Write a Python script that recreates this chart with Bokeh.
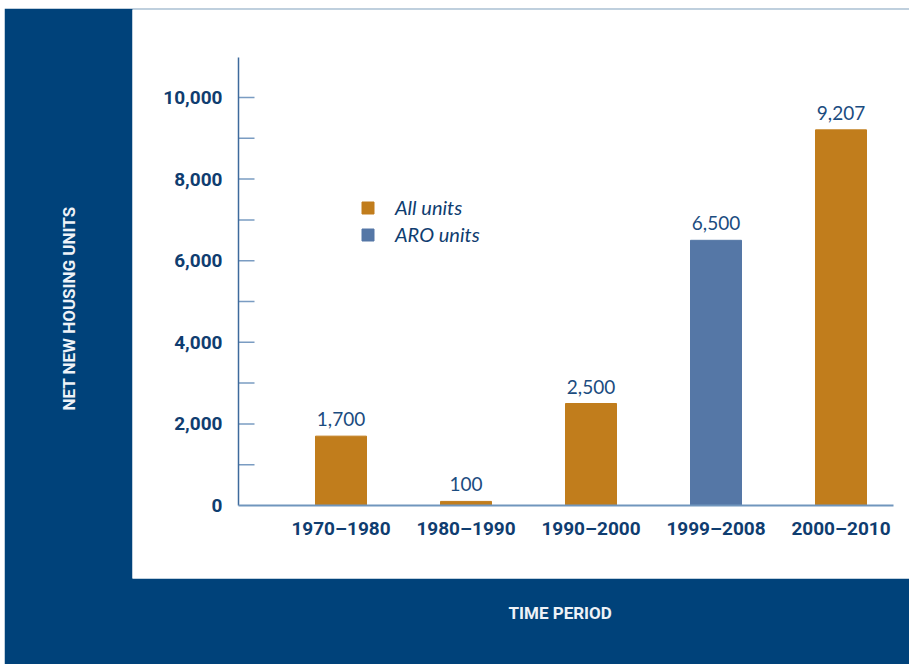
from bokeh.plotting import figure
from bokeh.models import (Range1d, ColumnDataSource, LabelSet, Legend, LegendItem, Title)
from bokeh.core.properties import value
from bokeh.embed import file_html
from bokeh.resources import INLINE

# ---------------- data ----------------
periods = ["1970–1980", "1980–1990", "1990–2000", "1999–2008", "2000–2010"]
units = [1700, 100, 2500, 6500, 9207]
value_labels = ["1,700", "100", "2,500", "6,500", "9,207"]
series = ["All units", "All units", "All units", "ARO units", "All units"]
y_ticks = [0, 1000, 2000, 3000, 4000, 5000, 6000, 7000, 8000, 9000, 10000]
y_tick_labels = ["0", "2,000", "4,000", "6,000", "8,000", "10,000"]
y_title = "NET NEW HOUSING UNITS"
x_title = "TIME PERIOD"

# ---------------- styles / layout ----------------
NAVY = "#00427a"
ORANGE = "#c17d1c"
STEEL = "#5577a6"
LABEL_NAVY = "#0f3d70"
VALUE_NAVY = "#1b4c80"
TITLE_WHITE = "#eef2f7"
COND = "Roboto"

AXIS_X = -0.82      # data x where the value axis sits
AXIS_X_END = 4.42   # data x where the category axis line ends
AXIS_Y_END = 10980  # data y where the value axis line ends

colors = [ORANGE if s == "All units" else STEEL for s in series]
xs = list(range(len(periods)))
src = ColumnDataSource(dict(x=xs, top=units, color=colors, lab=value_labels))

p = figure(width=905, height=656, output_backend="svg", toolbar_location=None,
           x_range=Range1d(-1.668, 4.548), y_range=Range1d(-1789.2, 12156.9),
           x_axis_location=None, y_axis_location=None,
           min_border_left=128, min_border_right=0, min_border_top=1,
           min_border_bottom=86, margin=(8, 0, 0, 4))
p.background_fill_color = "white"
p.border_fill_color = NAVY
p.outline_line_color = None
p.grid.visible = False

bars = p.vbar(x="x", top="top", width=0.408, bottom=0, color="color", source=src)

labels = LabelSet(x="x", y="top", text="lab", source=src, y_offset=10,
                  text_align="center", text_baseline="alphabetic",
                  text_font=value("Lato"), text_font_size="19px",
                  text_color=VALUE_NAVY)
p.add_layout(labels)

# value axis drawn inside the white panel
p.ray(x=[AXIS_X] * (len(y_ticks) - 1), y=y_ticks[1:], length=16, length_units="screen",
      angle=0, line_color="#7a9cc2", line_width=1.5)
p.segment(x0=[AXIS_X], y0=[0], x1=[AXIS_X], y1=[AXIS_Y_END],
          line_color="#3d6a9c", line_width=1.5)
even_ticks = [t for t in y_ticks if t % 2000 == 0]
p.text(x=[AXIS_X] * len(even_ticks), y=even_ticks, text=y_tick_labels,
       x_offset=-16, text_align="right", text_baseline="middle",
       text_font=value(COND), text_font_style="bold", text_font_size="19px",
       text_color=LABEL_NAVY)

# category axis
p.segment(x0=[AXIS_X], y0=[0], x1=[AXIS_X_END], y1=[0],
          line_color="#7096bd", line_width=2)
p.text(x=xs, y=[0] * len(xs), text=periods, y_offset=11,
       text_align="center", text_baseline="top",
       text_font=value(COND), text_font_style="bold", text_font_size="19px",
       text_color=LABEL_NAVY)

legend = Legend(items=[LegendItem(label=series[0], renderers=[bars], index=0),
                       LegendItem(label=series[3], renderers=[bars], index=3)],
                location=(228, 332), padding=0, border_line_color=None,
                background_fill_alpha=0, glyph_width=15, glyph_height=15,
                label_standoff=20, spacing=3,
                label_text_font="Lato", label_text_font_style="italic",
                label_text_font_size="20px", label_text_color=LABEL_NAVY)
p.add_layout(legend)

# titles in the navy bands
ytitle = Title(text=y_title, align="left", offset=168, vertical_align="middle",
               standoff=106, text_font=COND, text_font_style="bold",
               text_font_size="17px", text_color=TITLE_WHITE)
p.add_layout(ytitle, "left")
xtitle = Title(text=x_title, align="left", offset=376, vertical_align="middle",
               standoff=47, text_font=COND, text_font_style="bold",
               text_font_size="17px", text_color=TITLE_WHITE)
p.add_layout(xtitle, "below")

open("out.html", "w").write(file_html(p, INLINE))
